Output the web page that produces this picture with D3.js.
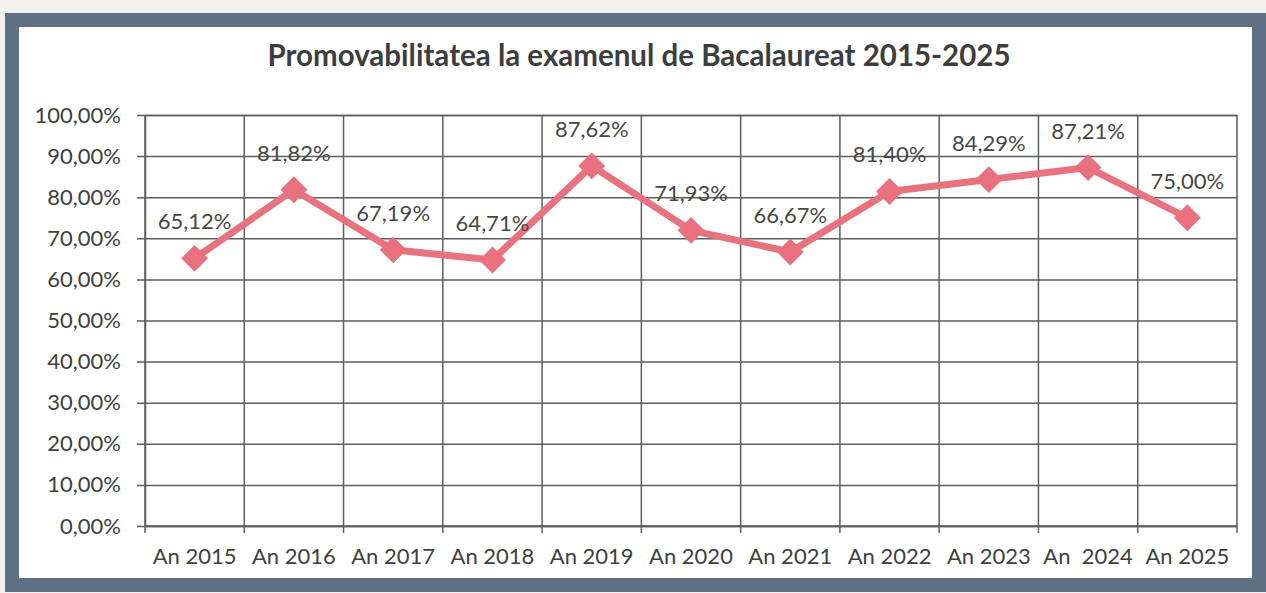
<!DOCTYPE html>
<html>
<head>
<meta charset="utf-8">
<script src="https://cdn.jsdelivr.net/npm/d3@7"></script>
<style>
html,body{margin:0;padding:0;background:#f3f1ed;}
svg{display:block;}
text{font-family:Lato,"Open Sans",sans-serif;}
</style>
</head>
<body>
<svg id="chart" width="1266" height="593"></svg>
<script>
const categories = ["An 2015","An 2016","An 2017","An 2018","An 2019","An 2020","An 2021","An 2022","An 2023","An  2024","An 2025"];
const values = [65.12, 81.82, 67.19, 64.71, 87.62, 71.93, 66.67, 81.40, 84.29, 87.21, 75.00];
const valueLabels = ["65,12%","81,82%","67,19%","64,71%","87,62%","71,93%","66,67%","81,40%","84,29%","87,21%","75,00%"];
const yTicks = [0,10,20,30,40,50,60,70,80,90,100];
const yTickLabels = ["0,00%","10,00%","20,00%","30,00%","40,00%","50,00%","60,00%","70,00%","80,00%","90,00%","100,00%"];
const title = "Promovabilitatea la examenul de Bacalaureat 2015-2025";

const svg = d3.select("#chart");
const W = 1266, H = 593;

// frame
svg.append("rect").attr("x",0).attr("y",0).attr("width",W).attr("height",H).attr("fill","#f3f1ed");
svg.append("rect").attr("x",12).attr("y",20).attr("width",1247).attr("height",565)
  .attr("fill","#ffffff").attr("stroke","#5f6f84").attr("stroke-width",14);

const m = {left:145, right:1237, top:115, bottom:526};
const x = d3.scaleBand().domain(categories).range([m.left, m.right]).padding(0);
const y = d3.scaleLinear().domain([0,100]).range([m.bottom, m.top]);

// title
svg.append("text").attr("x",639).attr("y",66).attr("text-anchor","middle")
  .attr("font-size",29.5).attr("font-weight","bold").attr("fill","#3d3d3d").text(title);

const gridColor = "#5e5e5e";
const fs = 22;
// horizontal gridlines + y ticks
const yAxis = d3.axisLeft(y).tickValues(yTicks).tickSize(-(m.right-m.left)).tickFormat((d,i)=>yTickLabels[i]);
const gy = svg.append("g").attr("transform",`translate(${m.left},0)`).call(yAxis);
gy.select(".domain").attr("stroke",gridColor).attr("stroke-width",1.5);
gy.selectAll(".tick line").attr("stroke",gridColor).attr("stroke-width",1.5).attr("x1",-8);
gy.selectAll(".tick text").attr("font-size",fs).attr("fill","#404040").attr("x",-24);

// vertical gridlines at category boundaries
const bounds = categories.map(c => x(c)).concat([m.right]);
svg.append("g").selectAll("line").data(bounds).join("line")
  .attr("x1",d=>d).attr("x2",d=>d).attr("y1",m.top).attr("y2",m.bottom+7)
  .attr("stroke",gridColor).attr("stroke-width",1.5);
// x axis
svg.append("line").attr("x1",m.left).attr("x2",m.right).attr("y1",m.bottom).attr("y2",m.bottom)
  .attr("stroke",gridColor).attr("stroke-width",1.5);
svg.append("g").selectAll("text").data(categories).join("text")
  .attr("x",d=>x(d)+x.bandwidth()/2).attr("y",m.bottom+38).attr("text-anchor","middle")
  .attr("font-size",fs).attr("fill","#404040").style("white-space","pre").text(d=>d);

// line
const cx = d => x(d)+x.bandwidth()/2;
const line = d3.line().x((d,i)=>cx(categories[i])).y(d=>y(d));
svg.append("path").datum(values).attr("d",line).attr("fill","none")
  .attr("stroke","#e8737f").attr("stroke-width",7).attr("stroke-linejoin","round");

// markers
const sym = d3.symbol().type(d3.symbolDiamond2).size(460);
svg.append("g").selectAll("path").data(values).join("path")
  .attr("d",sym).attr("transform",(d,i)=>`translate(${cx(categories[i])},${y(d)})`)
  .attr("fill","#e9707d");

// labels
svg.append("g").selectAll("text").data(values).join("text")
  .attr("x",(d,i)=>cx(categories[i])).attr("y",(d)=>y(d)-29).attr("text-anchor","middle")
  .attr("font-size",fs).attr("fill","#474747").text((d,i)=>valueLabels[i]);
</script>
</body>
</html>
